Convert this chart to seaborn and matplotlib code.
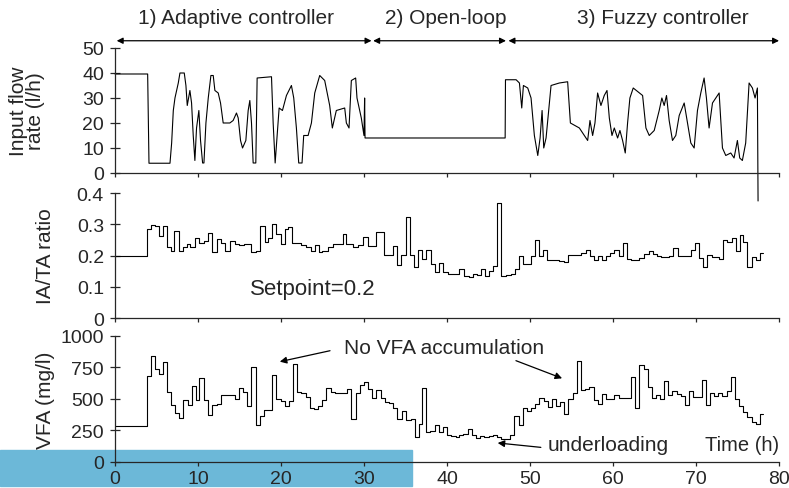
import numpy as np
import pandas as pd
import seaborn as sns
import matplotlib.pyplot as plt
from matplotlib.patches import Rectangle

sns.set_style('ticks')
plt.rcParams['font.family'] = ['Liberation Sans', 'DejaVu Sans']
plt.rcParams.update({'font.size': 14})

# ---- data ----
# 1) input flow rate (l/h), continuous trace
flow_t = [0, 3.93, 4.09, 6.62, 6.82, 7.02, 7.22, 7.62, 7.82, 8.34,
          8.54, 8.70, 9.02, 9.22, 9.42, 9.62, 9.82, 10.10, 10.30, 10.55,
          10.71, 10.95, 11.23, 11.55, 11.83, 12.03, 12.43, 12.71, 13.03, 13.83,
          14.23, 14.63, 14.84, 15.12, 15.36, 15.76, 16.04, 16.24, 16.44, 16.64,
          16.96, 17.12, 18.85, 19.05, 19.29, 19.53, 19.77, 20.17, 20.65, 21.25,
          21.53, 21.85, 22.13, 22.53, 22.73, 23.26, 23.66, 24.06, 24.66, 25.26,
          25.86, 26.18, 26.66, 27.67, 27.87, 28.19, 28.47, 28.99, 29.15, 29.67,
          29.99, 30.07, 30.12, 47.00, 47.04, 48.32, 48.72, 49.00, 49.20, 49.72,
          50.12, 50.52, 50.93, 51.21, 51.45, 51.65, 51.93, 52.25, 52.53, 53.53,
          54.53, 54.86, 55.94, 56.94, 57.22, 57.54, 57.82, 58.14, 58.54, 58.94,
          59.27, 59.55, 59.87, 60.15, 60.55, 60.83, 61.15, 61.47, 61.75, 62.03,
          62.43, 63.56, 63.96, 64.36, 64.96, 65.56, 65.88, 66.16, 66.44, 66.76,
          67.16, 67.56, 67.97, 68.57, 68.97, 69.37, 69.77, 70.17, 70.57, 70.97,
          71.25, 71.57, 71.98, 72.78, 73.18, 73.58, 74.18, 74.58, 74.98, 75.26,
          75.58, 75.98, 76.39, 76.79, 77.11, 77.39, 77.47]
flow_v = [39.6, 39.6, 3.9, 3.9, 12, 25, 30, 36, 40, 40,
          35, 27, 33, 28, 15, 5, 18, 25, 13, 4,
          4, 20, 30, 39, 39, 33, 32, 28, 20, 20,
          21, 24, 22, 13, 10, 13, 25, 29, 20, 4,
          4, 38, 38.5, 20, 4, 15, 26, 25, 31, 35,
          30, 18, 4, 4, 15, 15, 20, 32, 39, 37,
          27, 18, 25, 26, 20, 18, 37, 38, 30, 22,
          15, 30, 14, 14, 37.3, 37.3, 36, 26, 35, 34,
          30, 15, 7, 14, 25, 10, 14, 25, 35, 36,
          36.5, 20, 18, 13, 21, 15, 20, 32, 27, 31,
          33, 22, 15, 18, 14, 17, 13, 8, 20, 30,
          34, 31, 18, 15, 17, 25, 30, 27, 31, 21,
          13, 15, 23, 28, 20, 12, 10, 25, 32, 38,
          30, 18, 28, 32, 10, 7, 8, 6, 13, 6,
          5, 12, 36, 34, 30, 34, -11.2]

# 2) IA/TA ratio, stepwise (start time of each step)
ia_t = [0, 3.81, 4.29, 4.81, 5.33, 5.81, 6.22, 6.70, 7.14, 7.70,
        8.14, 8.62, 9.02, 9.62, 10.14, 10.71, 11.15, 11.71, 12.23, 12.71,
        13.23, 13.83, 14.43, 14.96, 15.52, 16.44, 16.96, 17.44, 18.04, 18.44,
        18.97, 19.45, 19.97, 20.45, 20.85, 21.37, 21.85, 22.45, 23.06, 23.66,
        24.06, 24.58, 24.98, 25.66, 26.26, 27.06, 27.47, 27.87, 28.67, 29.27,
        29.87, 30.47, 30.87, 31.48, 32.36, 33.48, 33.96, 34.49, 35.01, 35.57,
        35.97, 36.49, 37.01, 37.49, 38.01, 38.50, 39.02, 39.50, 40.10, 40.62,
        41.50, 42.02, 42.63, 43.11, 43.63, 44.11, 44.63, 45.11, 45.51, 45.99,
        46.52, 47.12, 47.72, 48.20, 48.64, 49.12, 49.64, 50.12, 50.60, 51.13,
        51.53, 52.05, 52.73, 53.53, 54.05, 54.61, 56.14, 56.74, 57.22, 57.74,
        58.14, 58.62, 59.15, 59.63, 60.15, 60.67, 61.15, 61.63, 62.15, 62.67,
        63.15, 63.76, 64.28, 64.76, 65.28, 65.76, 66.24, 66.76, 67.24, 67.77,
        69.37, 69.89, 70.37, 70.85, 71.37, 71.90, 72.78, 73.30, 73.78, 74.30,
        74.78, 75.26, 75.71, 76.19, 76.71, 77.19, 77.71, 78.07]
ia_v = [0.2, 0.284, 0.298, 0.296, 0.263, 0.296, 0.226, 0.216, 0.277, 0.216,
        0.226, 0.237, 0.226, 0.255, 0.24, 0.248, 0.272, 0.21, 0.253, 0.24,
        0.216, 0.247, 0.237, 0.233, 0.237, 0.212, 0.216, 0.295, 0.242, 0.256,
        0.302, 0.27, 0.237, 0.286, 0.29, 0.24, 0.24, 0.233, 0.226, 0.216,
        0.235, 0.21, 0.216, 0.227, 0.236, 0.237, 0.268, 0.238, 0.227, 0.235,
        0.26, 0.232, 0.23, 0.274, 0.202, 0.232, 0.17, 0.202, 0.324, 0.202,
        0.163, 0.219, 0.19, 0.219, 0.174, 0.147, 0.177, 0.147, 0.142, 0.14,
        0.156, 0.135, 0.13, 0.142, 0.139, 0.158, 0.134, 0.149, 0.166, 0.368,
        0.135, 0.139, 0.142, 0.156, 0.198, 0.173, 0.174, 0.198, 0.25, 0.2,
        0.219, 0.187, 0.185, 0.184, 0.179, 0.202, 0.208, 0.217, 0.2, 0.187,
        0.198, 0.187, 0.2, 0.208, 0.218, 0.198, 0.24, 0.19, 0.185, 0.187,
        0.192, 0.205, 0.214, 0.205, 0.2, 0.196, 0.194, 0.198, 0.223, 0.2,
        0.218, 0.239, 0.193, 0.163, 0.202, 0.195, 0.19, 0.249, 0.244, 0.257,
        0.213, 0.266, 0.242, 0.163, 0.194, 0.187, 0.208, 0.208]

# 3) VFA (mg/l), stepwise
vfa_t = [0, 3.81, 4.29, 4.81, 5.29, 5.81, 6.30, 6.74, 7.22, 7.70,
         8.22, 8.74, 9.22, 9.70, 10.14, 10.71, 11.23, 11.71, 12.23, 12.75,
         13.43, 14.43, 14.96, 15.44, 15.92, 16.44, 16.96, 17.44, 17.96, 18.97,
         19.45, 19.97, 20.45, 20.97, 21.45, 21.97, 22.45, 22.97, 23.46, 23.98,
         24.46, 24.98, 25.46, 25.98, 26.46, 27.99, 28.47, 28.99, 29.47, 29.99,
         30.47, 30.99, 31.48, 31.99, 32.48, 33.00, 33.48, 34.00, 34.61, 35.09,
         35.61, 36.09, 36.57, 37.01, 37.49, 37.97, 38.50, 39.02, 39.50, 40.02,
         40.50, 41.02, 41.50, 41.98, 42.51, 43.03, 43.51, 44.03, 44.51, 45.03,
         45.51, 46.03, 46.52, 47.60, 48.12, 48.64, 49.12, 49.64, 50.12, 50.64,
         51.13, 51.65, 52.13, 52.65, 53.13, 53.65, 54.13, 54.61, 55.14, 55.66,
         56.14, 56.66, 57.14, 57.66, 58.14, 58.62, 59.15, 59.67, 60.15, 60.67,
         62.15, 62.67, 63.15, 63.68, 64.16, 64.68, 65.16, 65.68, 66.16, 66.68,
         67.16, 67.69, 68.17, 68.69, 69.17, 69.69, 70.69, 71.17, 71.70, 72.18,
         72.70, 73.18, 73.70, 74.18, 74.70, 75.18, 75.71, 76.19, 76.71, 77.19,
         77.71, 78.07]
vfa_v = [283, 683, 841, 736, 696, 794, 556, 450, 392, 349,
         495, 455, 601, 495, 667, 490, 376, 450, 460, 534,
         529, 503, 590, 556, 442, 751, 296, 362, 410, 688,
         497, 481, 445, 487, 775, 556, 550, 513, 429, 418,
         445, 490, 587, 556, 550, 582, 339, 550, 609, 635,
         577, 511, 569, 511, 476, 471, 429, 344, 402, 331,
         344, 198, 304, 587, 238, 243, 296, 238, 278, 212,
         204, 198, 217, 225, 265, 212, 190, 204, 196, 206,
         212, 196, 180, 212, 365, 296, 429, 402, 429, 463,
         508, 482, 437, 497, 445, 476, 384, 503, 550, 802,
         569, 577, 595, 490, 463, 542, 497, 503, 534, 511,
         675, 429, 767, 741, 595, 508, 534, 503, 640, 534,
         561, 542, 521, 455, 564, 513, 654, 450, 550, 521,
         550, 524, 566, 675, 503, 445, 397, 357, 318, 304,
         384, 384]

x_ticks = [0, 10, 20, 30, 40, 50, 60, 70, 80]
flow_ticks = [0, 10, 20, 30, 40, 50]
ia_ticks = [0, 0.1, 0.2, 0.3, 0.4]
ia_ticklabels = ['0', '0.1', '0.2', '0.3', '0.4']
vfa_ticks = [0, 250, 500, 750, 1000]

phases = ['1) Adaptive controller', '2) Open-loop', '3) Fuzzy controller']
phase_bounds = [(0.2, 30.9), (31.1, 47.1), (47.4, 80)]
phase_label_x = [14.6, 39.9, 66.0]

flow = pd.DataFrame({'t': flow_t, 'v': flow_v})
ia = pd.DataFrame({'t': ia_t, 'v': ia_v})
vfa = pd.DataFrame({'t': vfa_t, 'v': vfa_v})

fig = plt.figure(figsize=(7.89, 4.89), dpi=100)
# blue band at the bottom-left of the picture
fig.patches.append(Rectangle((0, 1 - 487 / 489), 412 / 789, 36 / 489,
                             transform=fig.transFigure, color='#6cb8d8', zorder=-5))

ax1 = fig.add_axes([0.1458, 0.6442, 0.8416, 0.2556])
ax2 = fig.add_axes([0.1458, 0.3476, 0.8416, 0.2556])
ax3 = fig.add_axes([0.1458, 0.0532, 0.8416, 0.2577])

line_kw = dict(color='black', lw=0.8, estimator=None, sort=False)
sns.lineplot(data=flow, x='t', y='v', ax=ax1, clip_on=False, **line_kw)
sns.lineplot(data=ia, x='t', y='v', ax=ax2, drawstyle='steps-post', **line_kw)
sns.lineplot(data=vfa, x='t', y='v', ax=ax3, drawstyle='steps-post', **line_kw)

ax1.set_ylim(0, 50)
ax1.set_yticks(flow_ticks)
ax2.set_ylim(0, 0.4)
ax2.set_yticks(ia_ticks)
ax2.set_yticklabels(ia_ticklabels)
ax3.set_ylim(0, 1000)
ax3.set_yticks(vfa_ticks)

for ax in (ax1, ax2, ax3):
    ax.set_facecolor('none')
    ax.set_xlim(0, 80)
    ax.set_xticks(x_ticks)
    ax.set_xlabel('')
    sns.despine(ax=ax)
    for s in ('left', 'bottom'):
        ax.spines[s].set_linewidth(0.9)
    ax.tick_params(axis='y', direction='inout', length=7, width=0.9, pad=4.5, labelsize=14)
    ax.tick_params(axis='x', direction='out', length=3, width=0.9, pad=2.5, labelsize=14)
ax1.set_xticklabels([])
ax2.set_xticklabels([])

ax1.set_ylabel('Input flow\nrate (l/h)', fontsize=15, va='center', linespacing=0.85)
ax1.yaxis.set_label_coords(-0.1325, 0.5)
ax2.set_ylabel('IA/TA ratio', fontsize=15, va='center')
ax2.yaxis.set_label_coords(-0.105, 0.5)
ax3.set_ylabel('VFA (mg/l)', fontsize=15, va='center')
ax3.yaxis.set_label_coords(-0.105, 0.5)

# phase arrows and titles above the top panel
for name, (a, b), xm in zip(phases, phase_bounds, phase_label_x):
    ax1.annotate('', xy=(a, 52.9), xytext=(b, 52.9), annotation_clip=False,
                 arrowprops=dict(arrowstyle='<|-|>', color='black', lw=0.9,
                                 mutation_scale=9, shrinkA=0, shrinkB=0))
    ax1.text(xm, 62.4, name, ha='center', va='center', fontsize=15, clip_on=False)

ax2.text(16.2, 0.093, 'Setpoint=0.2', ha='left', va='center', fontsize=16)

arrow = dict(arrowstyle='-|>', color='black', lw=0.9, mutation_scale=10, shrinkA=0, shrinkB=0)
ax3.text(39.6, 905, 'No VFA accumulation', ha='center', va='center', fontsize=15)
ax3.annotate('', xy=(19.85, 796), xytext=(25.9, 883), arrowprops=arrow)
ax3.annotate('', xy=(53.86, 664), xytext=(48.3, 804), arrowprops=arrow)
ax3.text(52.1, 135, 'underloading', ha='left', va='center', fontsize=15)
ax3.annotate('', xy=(46.1, 151), xytext=(51.3, 116), arrowprops=arrow)
ax3.text(80, 135, 'Time (h)', ha='right', va='center', fontsize=14.5)

fig.savefig('out.png', dpi=100)
